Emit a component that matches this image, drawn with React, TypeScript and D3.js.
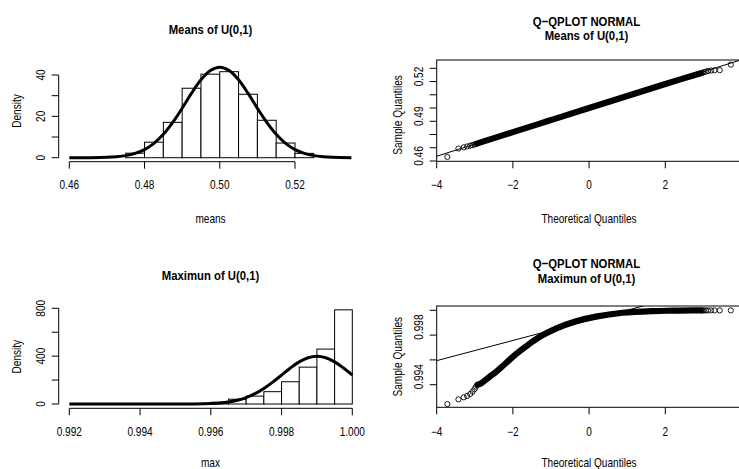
import React from "react";
import * as d3 from "d3";

// ---- histogram of the means ----
const meansBreaks = [0.475, 0.48, 0.485, 0.49, 0.495, 0.5, 0.505, 0.51, 0.515, 0.52, 0.525];
const meansDensity = [2.2, 7.5, 17.1, 33.6, 40.4, 41.6, 30.7, 18.1, 7.1, 2.1];
const meansCurveX = [0.46, 0.465, 0.47, 0.4725, 0.475, 0.4775, 0.48, 0.4825, 0.485, 0.4875, 0.49, 0.4925, 0.495, 0.4975, 0.5, 0.5025, 0.505, 0.5075, 0.51, 0.5125, 0.515, 0.5175, 0.52, 0.5225, 0.525, 0.5275, 0.53, 0.535];
const meansCurveY = [0, 0.03, 0.19, 0.46, 1.0, 2.1, 3.9, 6.9, 11.3, 17.1, 23.9, 31.2, 37.7, 42.2, 43.8, 42.2, 37.7, 31.2, 23.9, 17.1, 11.3, 6.9, 3.9, 2.1, 1.0, 0.46, 0.19, 0.03];
const meansXTicks = [0.46, 0.48, 0.5, 0.52];
const meansYTicks = [0, 10, 20, 30, 40];
const meansYLabels = [0, 20, 40];

// ---- histogram of the maxima ----
const maxBreaks = [0.995, 0.9955, 0.996, 0.9965, 0.997, 0.9975, 0.998, 0.9985, 0.999, 0.9995, 1.0];
const maxDensity = [1, 4, 14, 40, 66, 103, 186, 308, 459, 787];
const maxCurveX = [0.992, 0.993, 0.994, 0.995, 0.9955, 0.996, 0.99625, 0.9965, 0.99675, 0.997, 0.99725, 0.9975, 0.99775, 0.998, 0.99825, 0.9985, 0.99875, 0.999, 0.99925, 0.9995, 0.99975, 1.0];
const maxCurveY = [0, 0, 0, 0.1, 0.9, 4.4, 9.1, 17.5, 31.7, 54.0, 86.3, 129.6, 182.7, 242, 301.2, 352.1, 386.7, 399, 386.7, 352.1, 301.2, 242];
const maxXTicks = [0.992, 0.994, 0.996, 0.998, 1.0];
const maxYTicks = [0, 200, 400, 600, 800];
const maxYLabels = [0, 400, 800];

// ---- normal Q-Q of the means ----
const qqXTicks = [-4, -2, 0, 2, 4];
const qqXLabels = [-4, -2, 0, 2];
const qqMeansTailX = [-3.72, -3.43, -3.29, -3.2, -3.12, -3.06, -3.01, -2.97, 2.97, 3.01, 3.06, 3.12, 3.2, 3.29, 3.43, 3.72];
const qqMeansTailY = [0.4631, 0.4694, 0.4703, 0.471, 0.4716, 0.472, 0.4725, 0.4729, 0.5266, 0.527, 0.5274, 0.528, 0.5283, 0.5285, 0.5286, 0.5328];
const qqMeansBandX = [-2.93, -2, -1, 0, 1, 2, 2.93];
const qqMeansBandY = [0.4733, 0.4818, 0.4909, 0.5, 0.5091, 0.5182, 0.5262];
const qqMeansLineX = [-4, 4];
const qqMeansLineY = [0.4636, 0.5365];
const qqMeansYTicks = [0.46, 0.47, 0.48, 0.49, 0.5, 0.51, 0.52, 0.53];
const qqMeansYLabels = [0.46, 0.49, 0.52];

// ---- normal Q-Q of the maxima ----
const qqMaxTailX = [-3.72, -3.43, -3.29, -3.2, -3.12, -3.06, -3.01, -2.97, 2.97, 3.01, 3.06, 3.12, 3.2, 3.29, 3.43, 3.72];
const qqMaxTailY = [0.99244, 0.99282, 0.99298, 0.99309, 0.99325, 0.99344, 0.99363, 0.99384, 0.99999, 0.99999, 0.99999, 0.99999, 0.99999, 0.99999, 0.99999, 0.99999];
const qqMaxBandX = [-2.93, -2.84, -2.62, -2.44, -2.18, -1.92, -1.66, -1.31, -0.87, -0.34, 0.18, 0.88, 1.67, 2.2, 2.72, 2.93];
const qqMaxBandY = [0.994, 0.9941, 0.99462, 0.99503, 0.99575, 0.99646, 0.99708, 0.99783, 0.99852, 0.99911, 0.99949, 0.9998, 0.99994, 0.99997, 0.99999, 0.99999];
const qqMaxLineX = [-4, 4];
const qqMaxLineY = [0.99594, 1.00245];
const qqMaxYTicks = [0.994, 0.996, 0.998, 1.0];
const qqMaxYLabels = [0.994, 0.998];

const FONT = "'Liberation Sans', Arial, Helvetica, sans-serif";
const TICK = 7;
const NARROW = 0.84; // the original text is set in a condensed face

// text squeezed horizontally, optionally turned to read upwards
const T = ({ x, y, up = false, size = 12, bold = false, children }) => (
  <text
    transform={`translate(${x},${y})${up ? " rotate(-90)" : ""} scale(${NARROW},1)`}
    fontSize={size}
    fontWeight={bold ? "bold" : "normal"}
    textAnchor="middle"
    dominantBaseline="central"
  >
    {children}
  </text>
);

const Histogram = ({ breaks, density, curveX, curveY, xTicks, xFmt, yTicks, yLabels, lay, title, xLabel }) => {
  const x = d3.scaleLinear().domain(lay.xDomain).range(lay.xRange);
  const y = d3.scaleLinear().domain(lay.yDomain).range(lay.yRange);
  const line = d3
    .line()
    .x((d, i) => x(curveX[i]))
    .y(d => y(d))
    .curve(d3.curveCatmullRom);
  const fmt = d3.format(xFmt);

  return (
    <g fontFamily={FONT} fill="black">
      <T x={lay.cx} y={lay.titleY} size={13.5} bold>
        {title}
      </T>
      {density.map((d, i) => (
        <rect
          key={i}
          x={x(breaks[i])}
          y={y(d)}
          width={x(breaks[i + 1]) - x(breaks[i])}
          height={y(0) - y(d)}
          fill="white"
          stroke="black"
          strokeWidth={1}
        />
      ))}
      <path d={line(curveY)} fill="none" stroke="black" strokeWidth={3} strokeLinejoin="round" />
      {/* x axis */}
      <line x1={x(xTicks[0])} x2={x(xTicks[xTicks.length - 1])} y1={lay.axisY} y2={lay.axisY} stroke="black" />
      {xTicks.map(t => (
        <g key={t}>
          <line x1={x(t)} x2={x(t)} y1={lay.axisY} y2={lay.axisY + TICK} stroke="black" />
          <T x={x(t)} y={lay.tickLabelY}>
            {fmt(t)}
          </T>
        </g>
      ))}
      {/* y axis */}
      <line x1={lay.axisX} x2={lay.axisX} y1={y(yTicks[0])} y2={y(yTicks[yTicks.length - 1])} stroke="black" />
      {yTicks.map(t => (
        <line key={t} x1={lay.axisX - TICK} x2={lay.axisX} y1={y(t)} y2={y(t)} stroke="black" />
      ))}
      {yLabels.map(t => (
        <T key={t} x={lay.yTickLabelX} y={y(t)} up>
          {t}
        </T>
      ))}
      <T x={lay.cx} y={lay.xTitleY}>
        {xLabel}
      </T>
      <T x={lay.yTitleX} y={lay.yTitleY} up>
        Density
      </T>
    </g>
  );
};

const QQPlot = ({ tailX, tailY, bandX, bandY, lineX, lineY, yTicks, yLabels, yFmt, lay, subtitle, id }) => {
  const x = d3.scaleLinear().domain([-4, 4]).range(lay.xRange);
  const y = d3.scaleLinear().domain(lay.yDomain).range(lay.yRange);
  const band = d3
    .line()
    .x((d, i) => x(bandX[i]))
    .y(d => y(d))
    .curve(d3.curveCatmullRom);
  const fmt = d3.format(yFmt);
  const xfmt = d3.format("d");
  const [bx0, by0, bx1, by1] = lay.box;

  return (
    <g fontFamily={FONT} fill="black">
      <defs>
        <clipPath id={id}>
          <rect x={bx0} y={by0} width={bx1 - bx0} height={by1 - by0} />
        </clipPath>
      </defs>
      <T x={lay.cx} y={lay.title1Y} size={13.5} bold>
        Q−QPLOT NORMAL
      </T>
      <T x={lay.cx} y={lay.title2Y} size={13.5} bold>
        {subtitle}
      </T>
      <g clipPath={`url(#${id})`}>
        <path d={band(bandY)} fill="none" stroke="black" strokeWidth={6.2} strokeLinecap="round" strokeLinejoin="round" />
        {tailY.map((v, i) => (
          <circle key={i} cx={x(tailX[i])} cy={y(v)} r={2.6} fill="none" stroke="black" strokeWidth={0.9} />
        ))}
        <line x1={x(lineX[0])} y1={y(lineY[0])} x2={x(lineX[1])} y2={y(lineY[1])} stroke="black" strokeWidth={1} />
      </g>
      <rect x={bx0} y={by0} width={bx1 - bx0} height={by1 - by0} fill="none" stroke="black" strokeWidth={1} />
      {qqXTicks.map(t => (
        <line key={t} x1={x(t)} x2={x(t)} y1={by1} y2={by1 + TICK} stroke="black" />
      ))}
      {qqXLabels.map(t => (
        <T key={t} x={x(t)} y={lay.tickLabelY}>
          {xfmt(t)}
        </T>
      ))}
      {yTicks.map(t => (
        <line key={t} x1={bx0 - TICK} x2={bx0} y1={y(t)} y2={y(t)} stroke="black" />
      ))}
      {yLabels.map(t => (
        <T key={t} x={lay.yTickLabelX} y={y(t) + lay.yLabelShift} up>
          {fmt(t)}
        </T>
      ))}
      <T x={lay.xTitleX} y={lay.xTitleY}>
        Theoretical Quantiles
      </T>
      <T x={lay.yTitleX} y={lay.yTitleY} up>
        Sample Quantiles
      </T>
    </g>
  );
};

const App = () => {
  return (
    <svg width={739} height={469} style={{ position: "absolute", left: 0, top: 0, background: "white" }}>
      <rect width={739} height={469} fill="white" />
      <Histogram
        breaks={meansBreaks}
        density={meansDensity}
        curveX={meansCurveX}
        curveY={meansCurveY}
        xTicks={meansXTicks}
        xFmt=".2f"
        yTicks={meansYTicks}
        yLabels={meansYLabels}
        title="Means of U(0,1)"
        xLabel="means"
        lay={{
          xDomain: [0.46, 0.52], xRange: [69.3, 295], yDomain: [0, 40], yRange: [157.7, 75],
          axisY: 161.7, axisX: 58.7, tickLabelY: 185, yTickLabelX: 40.3, cx: 210.5,
          titleY: 29.5, xTitleY: 218.3, yTitleX: 16.7, yTitleY: 111
        }}
      />
      <Histogram
        breaks={maxBreaks}
        density={maxDensity}
        curveX={maxCurveX}
        curveY={maxCurveY}
        xTicks={maxXTicks}
        xFmt=".3f"
        yTicks={maxYTicks}
        yLabels={maxYLabels}
        title="Maximun of U(0,1)"
        xLabel="max"
        lay={{
          xDomain: [0.992, 1.0], xRange: [69.3, 352.3], yDomain: [0, 800], yRange: [404, 308.3],
          axisY: 408.3, axisX: 58.7, tickLabelY: 431.7, yTickLabelX: 40.3, cx: 210.5,
          titleY: 276, xTitleY: 462.5, yTitleX: 16.7, yTitleY: 356.7
        }}
      />
      <QQPlot
        id="clipMeans"
        tailX={qqMeansTailX}
        tailY={qqMeansTailY}
        bandX={qqMeansBandX}
        bandY={qqMeansBandY}
        lineX={qqMeansLineX}
        lineY={qqMeansLineY}
        yTicks={qqMeansYTicks}
        yLabels={qqMeansYLabels}
        yFmt=".2f"
        subtitle="Means of U(0,1)"
        lay={{
          xRange: [436.7, 741.5], yDomain: [0.46, 0.53], yRange: [161, 68.3], box: [436.7, 60, 741.5, 161.3],
          tickLabelY: 184.3, yTickLabelX: 418.5, yLabelShift: -5, cx: 586.5, title1Y: 21.5, title2Y: 35.9,
          xTitleX: 589, xTitleY: 218.3, yTitleX: 397.5, yTitleY: 115
        }}
      />
      <QQPlot
        id="clipMax"
        tailX={qqMaxTailX}
        tailY={qqMaxTailY}
        bandX={qqMaxBandX}
        bandY={qqMaxBandY}
        lineX={qqMaxLineX}
        lineY={qqMaxLineY}
        yTicks={qqMaxYTicks}
        yLabels={qqMaxYLabels}
        yFmt=".3f"
        subtitle="Maximun of U(0,1)"
        lay={{
          xRange: [436.7, 741.5], yDomain: [0.994, 1.0], yRange: [384.7, 310.3], box: [436.7, 306, 741.5, 407.3],
          tickLabelY: 431.7, yTickLabelX: 418.5, yLabelShift: -8, cx: 586.5, title1Y: 264.1, title2Y: 278.5,
          xTitleX: 589, xTitleY: 462.5, yTitleX: 397.5, yTitleY: 356.7
        }}
      />
    </svg>
  );
};

export default App;
